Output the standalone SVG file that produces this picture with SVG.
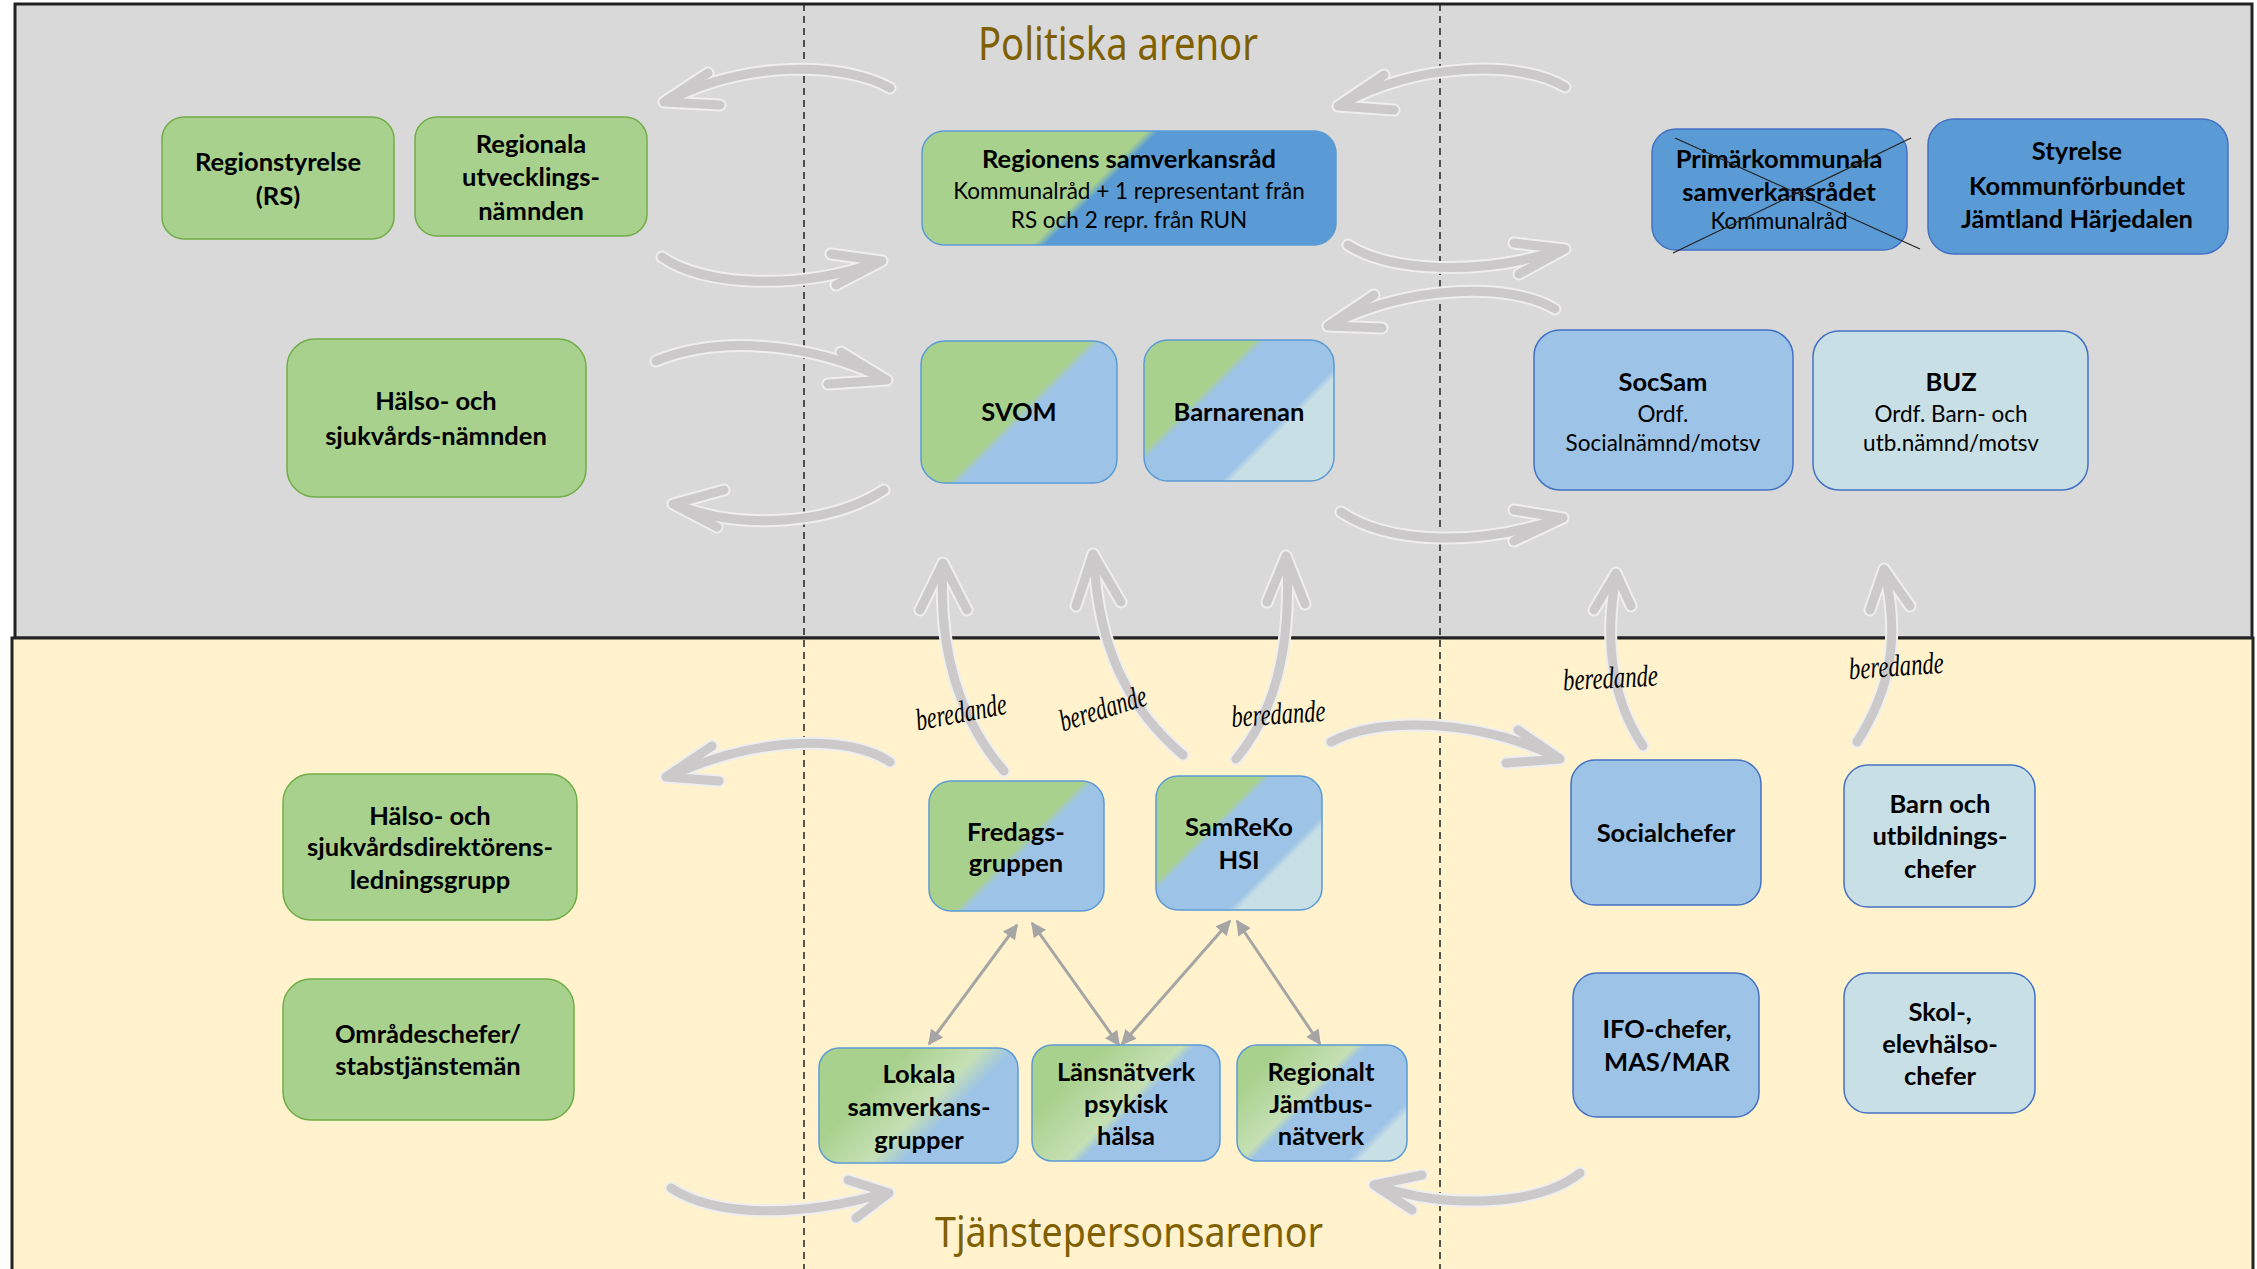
<svg xmlns="http://www.w3.org/2000/svg" xmlns:xlink="http://www.w3.org/1999/xlink" width="2257" height="1269" viewBox="0 0 2257 1269">
<style>
.b{font-family:Lato,"Open Sans","Liberation Sans",sans-serif;font-weight:bold;font-size:25.5px;fill:#000;text-anchor:middle}
.r{font-family:Lato,"Open Sans","Liberation Sans",sans-serif;font-weight:normal;font-size:22.5px;fill:#000;text-anchor:middle}
.green{fill:#a9d18e;stroke:#70ad47;stroke-width:1.5}
.blue{fill:#5b9bd5;stroke:#4472c4;stroke-width:1.5}
.lblue{fill:#9dc3e6;stroke:#4472c4;stroke-width:1.5}
.pale{fill:#c9dfe6;stroke:#4472c4;stroke-width:1.5}
.gb{stroke:#5b9bd5;stroke-width:1.5}
.title{font-family:"Noto Sans","DejaVu Sans",sans-serif;fill:#7f6000;font-weight:normal}
.bered{font-family:"Liberation Serif",serif;font-style:italic;font-size:31px;fill:#000;text-anchor:middle}
.outl{fill:none;stroke:#eeeeee;stroke-width:13;stroke-linecap:round;stroke-linejoin:round}
.core{fill:none;stroke:#cbc9c9;stroke-width:9;stroke-linecap:round;stroke-linejoin:round}
.conn{fill:none;stroke:#a5a5a5;stroke-width:3}
.dash{stroke:#222;stroke-width:1.5;stroke-dasharray:7 5}
</style>
<defs>
<marker id="ah" viewBox="0 0 10 10" refX="9" refY="5" markerWidth="6" markerHeight="5" orient="auto-start-reverse" markerUnits="strokeWidth">
<path d="M0,0 L10,5 L0,10 z" fill="#a5a5a5"/>
</marker>
<linearGradient id="g4" gradientUnits="userSpaceOnUse" x1="632" y1="632" x2="652" y2="652"><stop offset="0.35" stop-color="#a9d18e"/><stop offset="0.65" stop-color="#5b9bd5"/></linearGradient>
<linearGradient id="g5" gradientUnits="userSpaceOnUse" x1="708" y1="708" x2="728" y2="728"><stop offset="0.35" stop-color="#a9d18e"/><stop offset="0.65" stop-color="#9dc3e6"/></linearGradient>
<linearGradient id="g6" gradientUnits="userSpaceOnUse" x1="790" y1="790" x2="865" y2="865"><stop offset="0.1" stop-color="#a9d18e"/><stop offset="0.167" stop-color="#9dc3e6"/><stop offset="0.813" stop-color="#9dc3e6"/><stop offset="0.88" stop-color="#c9dfe6"/></linearGradient>
<linearGradient id="g13" gradientUnits="userSpaceOnUse" x1="925" y1="925" x2="945" y2="945"><stop offset="0.35" stop-color="#a9d18e"/><stop offset="0.65" stop-color="#9dc3e6"/></linearGradient>
<linearGradient id="g14" gradientUnits="userSpaceOnUse" x1="1010" y1="1010" x2="1085" y2="1085"><stop offset="0.113" stop-color="#a9d18e"/><stop offset="0.18" stop-color="#9dc3e6"/><stop offset="0.787" stop-color="#9dc3e6"/><stop offset="0.853" stop-color="#c9dfe6"/></linearGradient>
<linearGradient id="g15" gradientUnits="userSpaceOnUse" x1="970" y1="970" x2="1040" y2="1040"><stop offset="0.143" stop-color="#a9d18e"/><stop offset="0.643" stop-color="#c5e0b4"/><stop offset="0.893" stop-color="#9dc3e6"/></linearGradient>
<linearGradient id="g16" gradientUnits="userSpaceOnUse" x1="1065" y1="1065" x2="1130" y2="1130"><stop offset="0.154" stop-color="#a9d18e"/><stop offset="0.754" stop-color="#c5e0b4"/><stop offset="0.862" stop-color="#9dc3e6"/></linearGradient>
<linearGradient id="g17" gradientUnits="userSpaceOnUse" x1="1155" y1="1155" x2="1270" y2="1270"><stop offset="0.087" stop-color="#a9d18e"/><stop offset="0.391" stop-color="#c5e0b4"/><stop offset="0.443" stop-color="#9dc3e6"/><stop offset="0.861" stop-color="#9dc3e6"/><stop offset="0.913" stop-color="#c9dfe6"/></linearGradient>
<g id="big">
<path d="M890,88 C845,62 745,60 668,101 M708,73 L664,102 L720,105"/>
<path d="M662,257 C705,287 800,290 878,262 M831,254 L882,261 L836,285"/>
<path d="M656,361 C720,335 810,343 883,378 M841,352 L887,380 L828,384"/>
<path d="M884,490 C830,525 740,530 677,505 M724,490 L673,504 L717,527"/>
<path d="M1565,87 C1520,60 1420,62 1342,104 M1384,75 L1338,106 L1394,110"/>
<path d="M1348,245 C1390,272 1480,276 1560,250 M1514,243 L1565,249 L1519,274"/>
<path d="M1555,309 C1510,282 1410,285 1332,324 M1374,295 L1328,326 L1382,328"/>
<path d="M1341,512 C1390,545 1480,546 1558,519 M1514,510 L1563,518 L1514,541"/>
<path d="M1004,771 C960,720 938,650 943,567 M920,610 L943,563 L967,610"/>
<path d="M1183,755 C1130,710 1098,650 1094,558 M1076,606 L1093,554 L1121,602"/>
<path d="M1236,759 C1275,712 1291,650 1287,560 M1267,602 L1286,556 L1305,604"/>
<path d="M1643,746 C1612,700 1604,640 1616,577 M1594,610 L1616,573 L1631,606"/>
<path d="M1857,742 C1890,690 1900,640 1885,573 M1870,610 L1884,569 L1910,606"/>
<path d="M890,762 C850,735 760,735 670,776 M712,746 L666,777 L719,781"/>
<path d="M671,1188 C720,1220 810,1215 885,1193 M848,1180 L889,1193 L856,1218"/>
<path d="M1331,742 C1380,715 1480,720 1556,757 M1518,730 L1560,759 L1506,763"/>
<path d="M1580,1173 C1540,1205 1450,1210 1378,1186 M1422,1175 L1374,1185 L1412,1210"/>
</g>
</defs>

<g id="panels">
<rect x="15" y="4" width="2237" height="634" fill="#d9d9d9" stroke="#222" stroke-width="3"/>
<rect x="12" y="638" width="2241" height="640" fill="#fff2cc" stroke="#222" stroke-width="3"/>
<line class="dash" x1="804" y1="4" x2="804" y2="1269"/>
<line class="dash" x1="1440" y1="4" x2="1440" y2="1269"/>
<text class="title" x="978" y="60" font-size="46" textLength="280" lengthAdjust="spacingAndGlyphs">Politiska arenor</text>
<text class="title" x="935" y="1247" font-size="42" textLength="388" lengthAdjust="spacingAndGlyphs">Tjänstepersonsarenor</text>
</g>

<g id="connectors">
<use xlink:href="#big" class="outl"/>
<use xlink:href="#big" class="core"/>
<line class="conn" x1="1017" y1="925" x2="929" y2="1044" marker-start="url(#ah)" marker-end="url(#ah)"/>
<line class="conn" x1="1032" y1="923" x2="1119" y2="1045" marker-start="url(#ah)" marker-end="url(#ah)"/>
<line class="conn" x1="1230" y1="921" x2="1122" y2="1044" marker-start="url(#ah)" marker-end="url(#ah)"/>
<line class="conn" x1="1237" y1="921" x2="1320" y2="1044" marker-start="url(#ah)" marker-end="url(#ah)"/>
</g>

<g id="labels">
<text class="bered" transform="translate(963,722) rotate(-10.6)" textLength="92" lengthAdjust="spacingAndGlyphs">beredande</text>
<text class="bered" transform="translate(1106,718) rotate(-17.4)" textLength="90" lengthAdjust="spacingAndGlyphs">beredande</text>
<text class="bered" transform="translate(1279,724) rotate(-3.7)" textLength="94" lengthAdjust="spacingAndGlyphs">beredande</text>
<text class="bered" transform="translate(1611,688) rotate(-3)" textLength="95" lengthAdjust="spacingAndGlyphs">beredande</text>
<text class="bered" transform="translate(1897,676) rotate(-4)" textLength="95" lengthAdjust="spacingAndGlyphs">beredande</text>
</g>

<g id="n-rs"><rect class="green" x="162" y="117" width="232" height="122" rx="22"/>
<text class="b" x="278" y="171">Regionstyrelse</text><text class="b" x="278" y="205">(RS)</text></g>

<g id="n-run"><rect class="green" x="415" y="117" width="232" height="119" rx="22"/>
<text class="b" x="531" y="153">Regionala</text><text class="b" x="531" y="186">utvecklings-</text><text class="b" x="531" y="220">nämnden</text></g>

<g id="n-hsn"><rect class="green" x="287" y="339" width="299" height="158" rx="28"/>
<text class="b" x="436" y="410">Hälso- och</text><text class="b" x="436" y="445">sjukvårds-nämnden</text></g>

<g id="n-regsam"><rect class="gb" fill="url(#g4)" x="922" y="131" width="414" height="114" rx="22"/>
<text class="b" x="1129" y="168">Regionens samverkansråd</text>
<text class="r" x="1129" y="199">Kommunalråd + 1 representant från</text>
<text class="r" x="1129" y="228">RS och 2 repr. från RUN</text></g>

<g id="n-svom"><rect class="gb" fill="url(#g5)" x="921" y="341" width="196" height="142" rx="24"/>
<text class="b" x="1019" y="421">SVOM</text></g>

<g id="n-barnarenan"><rect class="gb" fill="url(#g6)" x="1144" y="340" width="190" height="141" rx="24"/>
<text class="b" x="1239" y="421">Barnarenan</text></g>

<g id="n-primar"><rect class="blue" x="1652" y="129" width="255" height="121" rx="24"/>
<text class="b" x="1779" y="168">Primärkommunala</text><text class="b" x="1779" y="201">samverkansrådet</text>
<text class="r" x="1779" y="229" font-size="21" fill="#222">Kommunalråd</text>
<line x1="1675" y1="138" x2="1920" y2="249" stroke="#222" stroke-width="1.2"/>
<line x1="1673" y1="253" x2="1911" y2="138" stroke="#222" stroke-width="1.2"/></g>

<g id="n-styrelse"><rect class="blue" x="1928" y="119" width="300" height="135" rx="26"/>
<text class="b" x="2077" y="160">Styrelse</text><text class="b" x="2077" y="195">Kommunförbundet</text><text class="b" x="2077" y="228">Jämtland Härjedalen</text></g>

<g id="n-socsam"><rect class="lblue" x="1534" y="330" width="259" height="160" rx="26"/>
<text class="b" x="1663" y="391">SocSam</text><text class="r" x="1663" y="422">Ordf.</text><text class="r" x="1663" y="451">Socialnämnd/motsv</text></g>

<g id="n-buz"><rect class="pale" x="1813" y="331" width="275" height="159" rx="26"/>
<text class="b" x="1951" y="391">BUZ</text><text class="r" x="1951" y="422">Ordf. Barn- och</text><text class="r" x="1951" y="451">utb.nämnd/motsv</text></g>

<g id="n-hsdir"><rect class="green" x="283" y="774" width="294" height="146" rx="28"/>
<text class="b" x="430" y="825">Hälso- och</text><text class="b" x="430" y="856">sjukvårdsdirektörens-</text><text class="b" x="430" y="889">ledningsgrupp</text></g>

<g id="n-omrade"><rect class="green" x="283" y="979" width="291" height="141" rx="28"/>
<text class="b" x="428" y="1043">Områdeschefer/</text><text class="b" x="428" y="1075">stabstjänstemän</text></g>

<g id="n-fredags"><rect class="gb" fill="url(#g13)" x="929" y="781" width="175" height="130" rx="22"/>
<text class="b" x="1016" y="841">Fredags-</text><text class="b" x="1016" y="872">gruppen</text></g>

<g id="n-samreko"><rect class="gb" fill="url(#g14)" x="1156" y="776" width="166" height="134" rx="22"/>
<text class="b" x="1239" y="836">SamReKo</text><text class="b" x="1239" y="869">HSI</text></g>

<g id="n-lokala"><rect class="gb" fill="url(#g15)" x="819" y="1048" width="199" height="115" rx="20"/>
<text class="b" x="919" y="1083">Lokala</text><text class="b" x="919" y="1116">samverkans-</text><text class="b" x="919" y="1149">grupper</text></g>

<g id="n-lansnatverk"><rect class="gb" fill="url(#g16)" x="1032" y="1045" width="188" height="116" rx="20"/>
<text class="b" x="1126" y="1081">Länsnätverk</text><text class="b" x="1126" y="1113">psykisk</text><text class="b" x="1126" y="1145">hälsa</text></g>

<g id="n-regionalt"><rect class="gb" fill="url(#g17)" x="1237" y="1045" width="170" height="116" rx="20"/>
<text class="b" x="1321" y="1081">Regionalt</text><text class="b" x="1321" y="1113">Jämtbus-</text><text class="b" x="1321" y="1145">nätverk</text></g>

<g id="n-socialchefer"><rect class="lblue" x="1571" y="760" width="190" height="145" rx="24"/>
<text class="b" x="1666" y="842">Socialchefer</text></g>

<g id="n-barnutb"><rect class="pale" x="1844" y="765" width="191" height="142" rx="24"/>
<text class="b" x="1940" y="813">Barn och</text><text class="b" x="1940" y="845">utbildnings-</text><text class="b" x="1940" y="878">chefer</text></g>

<g id="n-ifo"><rect class="lblue" x="1573" y="973" width="186" height="144" rx="24"/>
<text class="b" x="1667" y="1038">IFO-chefer,</text><text class="b" x="1667" y="1071">MAS/MAR</text></g>

<g id="n-skol"><rect class="pale" x="1844" y="973" width="191" height="140" rx="24"/>
<text class="b" x="1940" y="1021">Skol-,</text><text class="b" x="1940" y="1053">elevhälso-</text><text class="b" x="1940" y="1085">chefer</text></g>
</svg>
